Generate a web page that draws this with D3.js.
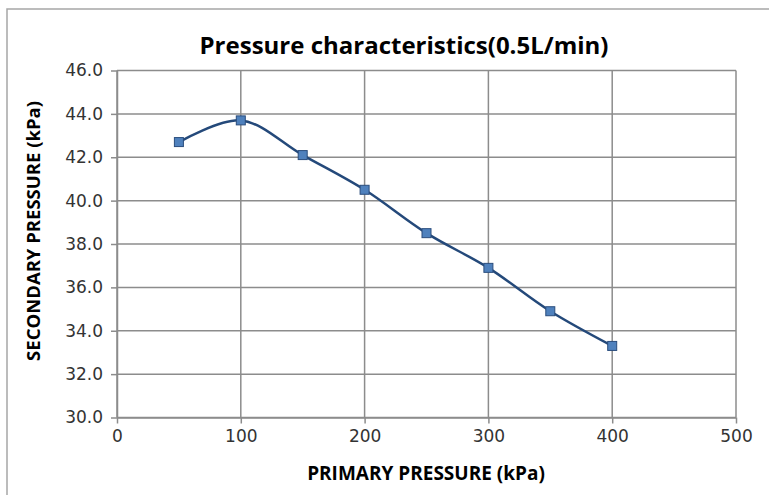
<!DOCTYPE html>
<html>
<head>
<meta charset="utf-8">
<script src="https://cdn.jsdelivr.net/npm/d3@7"></script>
<style>
  body { margin: 0; background: #fff; }
  .tick text { font-family: "DejaVu Sans", Verdana, sans-serif; font-size: 17px; fill: #333; }
</style>
</head>
<body>
<div id="chart"></div>
<script>
// primary pressure (kPa) and secondary pressure (kPa)
var primary = [50, 100, 150, 200, 250, 300, 350, 400];
var secondary = [42.7, 43.7, 42.1, 40.5, 38.5, 36.9, 34.9, 33.3];
var xTicks = [0, 100, 200, 300, 400, 500];
var yTicks = [30, 32, 34, 36, 38, 40, 42, 44, 46];

var width = 769, height = 495;
var plotLeft = 117, plotRight = 736, plotTop = 70.5, plotBottom = 417.5;

var svg = d3.select("#chart").append("svg")
    .attr("width", width)
    .attr("height", height);

// outer chart border
svg.append("rect")
    .attr("x", 7).attr("y", 9)
    .attr("width", 780).attr("height", 500)
    .attr("fill", "#fff")
    .attr("stroke", "#a6a6a6")
    .attr("stroke-width", 1.5);

var x = d3.scaleLinear().domain([0, 500]).range([plotLeft, plotRight]);
var y = d3.scaleLinear().domain([30, 46]).range([plotBottom, plotTop]);

// grid
svg.append("g").selectAll("line")
    .data(yTicks).enter().append("line")
    .attr("x1", plotLeft).attr("x2", plotRight)
    .attr("y1", function (d) { return y(d); })
    .attr("y2", function (d) { return y(d); })
    .attr("stroke", "#8c8c8c").attr("stroke-width", 1.5);

svg.append("g").selectAll("line")
    .data(xTicks).enter().append("line")
    .attr("x1", function (d) { return x(d); })
    .attr("x2", function (d) { return x(d); })
    .attr("y1", plotTop).attr("y2", plotBottom)
    .attr("stroke", "#8c8c8c").attr("stroke-width", 1.5);

// axes
var xAxis = svg.append("g")
    .attr("transform", "translate(0," + plotBottom + ")")
    .call(d3.axisBottom(x).tickValues(xTicks).tickSize(6).tickSizeOuter(0).tickPadding(6));

var yAxis = svg.append("g")
    .attr("transform", "translate(" + plotLeft + ",0)")
    .call(d3.axisLeft(y).tickValues(yTicks).tickSize(6).tickSizeOuter(0).tickPadding(8)
        .tickFormat(d3.format(".1f")));

[xAxis, yAxis].forEach(function (a) {
    a.select(".domain").attr("stroke", "#8c8c8c").attr("stroke-width", 1.5);
    a.selectAll(".tick line").attr("stroke", "#8c8c8c").attr("stroke-width", 1.5);
});

// series
var data = primary.map(function (p, i) { return { x: p, y: secondary[i] }; });

var line = d3.line()
    .x(function (d) { return x(d.x); })
    .y(function (d) { return y(d.y); })
    .curve(d3.curveCatmullRom.alpha(0.5));

svg.append("path")
    .datum(data)
    .attr("d", line)
    .attr("fill", "none")
    .attr("stroke", "#24497a")
    .attr("stroke-width", 2.5);

svg.selectAll(".marker")
    .data(data).enter().append("rect")
    .attr("class", "marker")
    .attr("x", function (d) { return x(d.x) - 4.5; })
    .attr("y", function (d) { return y(d.y) - 4.5; })
    .attr("width", 9).attr("height", 9)
    .attr("fill", "#4f81bd")
    .attr("stroke", "#2a4d7d")
    .attr("stroke-width", 1);

// titles
svg.append("text")
    .attr("x", 404).attr("y", 54)
    .attr("text-anchor", "middle")
    .attr("font-family", "Open Sans, sans-serif")
    .attr("font-weight", "bold")
    .attr("font-size", 24)
    .attr("fill", "#000")
    .text("Pressure characteristics(0.5L/min)");

svg.append("text")
    .attr("x", 426).attr("y", 480)
    .attr("text-anchor", "middle")
    .attr("font-family", "Open Sans, sans-serif")
    .attr("font-weight", "bold")
    .attr("font-size", 19)
    .attr("fill", "#000")
    .text("PRIMARY PRESSURE (kPa)");

svg.append("text")
    .attr("transform", "translate(40,231) rotate(-90)")
    .attr("text-anchor", "middle")
    .attr("font-family", "Open Sans, sans-serif")
    .attr("font-weight", "bold")
    .attr("font-size", 18.5)
    .attr("fill", "#000")
    .text("SECONDARY PRESSURE (kPa)");
</script>
</body>
</html>
